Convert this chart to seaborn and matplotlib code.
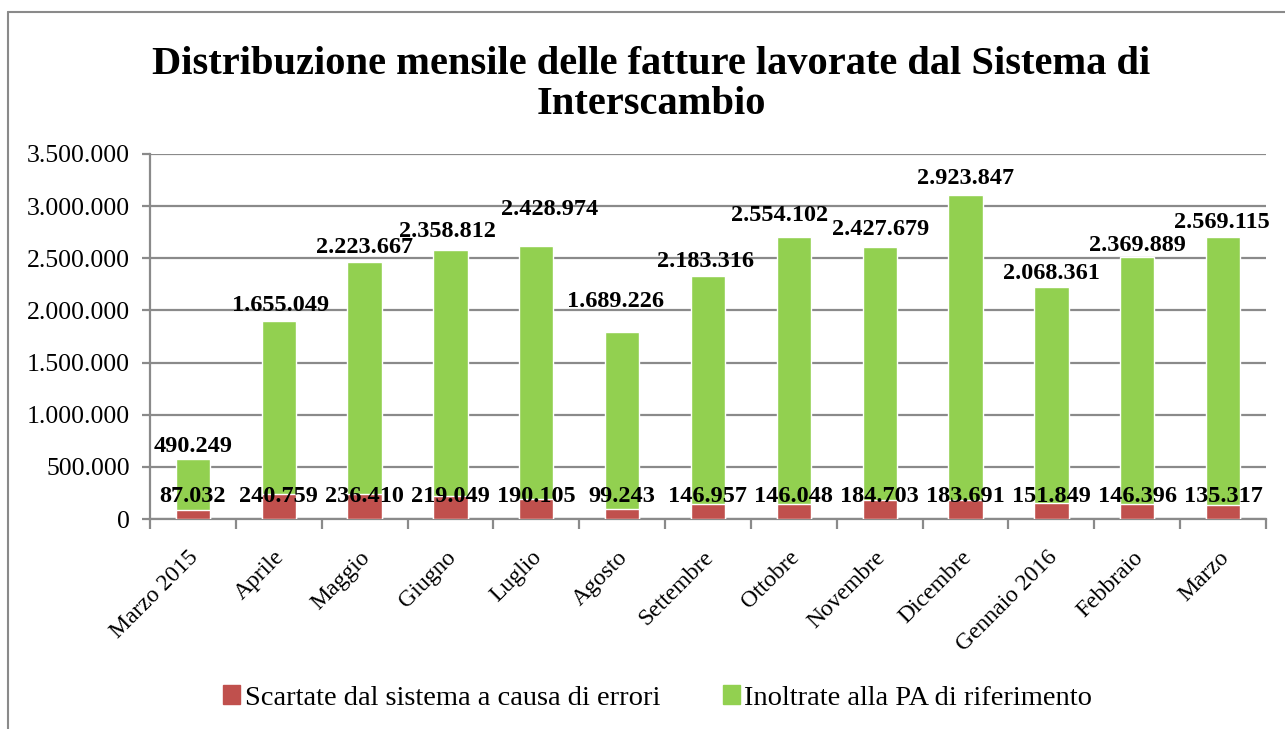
import numpy as np
import pandas as pd
import seaborn as sns
import matplotlib.pyplot as plt
import matplotlib.transforms as mtransforms
from matplotlib.patches import Patch
from matplotlib.lines import Line2D

# Data ------------------------------------------------------------------
mesi = ["Marzo 2015", "Aprile", "Maggio", "Giugno", "Luglio", "Agosto",
        "Settembre", "Ottobre", "Novembre", "Dicembre", "Gennaio 2016",
        "Febbraio", "Marzo"]
scartate = [87032, 240759, 236410, 219049, 190105, 99243, 146957,
            146048, 184703, 183691, 151849, 146396, 135317]
inoltrate = [490249, 1655049, 2223667, 2358812, 2428974, 1689226, 2183316,
             2554102, 2427679, 2923847, 2068361, 2369889, 2569115]

# small manual nudges of the top labels (pixels), as placed in the original
label_dx = [0, 2, 0, -3, 13, -7, -3, -14, 1, 0, 0, 0, -1]
label_dy = [12, 16, 15, 19, 36, 31, 14, 22, 17, 16, 14, 11, 14]

df = pd.DataFrame({"mese": mesi, "scartate": scartate, "inoltrate": inoltrate})
df["totale"] = df["scartate"] + df["inoltrate"]


def fmt(v):
    return f"{int(v):,}".replace(",", ".")


# Style -----------------------------------------------------------------
sns.set_theme(style="white")
plt.rcParams["font.family"] = ["Liberation Serif", "DejaVu Serif"]
plt.rcParams["text.color"] = "black"

red = "#C0504D"
green = "#92D050"
grid_col = "#8A8A8A"
px = 72 / 100  # points per pixel at dpi 100

fig = plt.figure(figsize=(12.85, 7.29), dpi=100)
ax = fig.add_axes([150 / 1285, 1 - 519 / 729, (1266 - 150) / 1285, (519 - 154) / 729])

# stacked bars: total in green, scartate overlaid in red
sns.barplot(data=df, x="mese", y="totale", color=green, width=0.4,
            saturation=1, ax=ax, zorder=3)
sns.barplot(data=df, x="mese", y="scartate", color=red, width=0.4,
            saturation=1, ax=ax, zorder=3)

ax.set_ylim(0, 3500000)
ax.set_xlim(-0.5, len(mesi) - 0.5)
yt = np.arange(0, 3500001, 500000)
ax.set_yticks(yt)
ax.set_yticklabels([fmt(v) for v in yt], fontsize=18.5)
ax.yaxis.grid(True, color=grid_col, linewidth=1.6, zorder=0)
ax.set_axisbelow(True)
ax.set_xlabel("")
ax.set_ylabel("")

for s in ["top", "right"]:
    ax.spines[s].set_visible(False)
for s in ["left", "bottom"]:
    ax.spines[s].set_color(grid_col)
    ax.spines[s].set_linewidth(1.6)

ax.tick_params(axis="y", length=6, color=grid_col, width=1.6, pad=8.5,
               left=True, labelcolor="black")
ax.set_xticks(np.arange(-0.5, len(mesi), 1), minor=True)
ax.tick_params(axis="x", which="minor", length=7, color=grid_col, width=1.6, bottom=True)
ax.tick_params(axis="x", which="major", length=0, pad=20, labelcolor="black")
ax.set_xticks(range(len(mesi)))
ax.set_xticklabels(mesi, rotation=45, ha="right", va="top",
                   rotation_mode="anchor", fontsize=17)
shift = mtransforms.ScaledTranslation(-5 / 100, 0, fig.dpi_scale_trans)
for lab in ax.get_xticklabels():
    lab.set_transform(lab.get_transform() + shift)

# data labels
for i, r in df.iterrows():
    ax.annotate(fmt(r["inoltrate"]), (i, r["totale"]),
                xytext=(label_dx[i] * px, label_dy[i] * px),
                textcoords="offset points", ha="center", va="center",
                fontsize=17.5, fontweight="bold", zorder=5)
    ax.annotate(fmt(r["scartate"]), (i, 0), xytext=(0, 23 * px),
                textcoords="offset points", ha="center", va="center",
                fontsize=17.5, fontweight="bold", zorder=5)

# title
fig.text(0.507, 1 - 74 / 729, "Distribuzione mensile delle fatture lavorate dal Sistema di",
         ha="center", va="baseline", fontsize=29.2, fontweight="bold")
fig.text(0.507, 1 - 114 / 729, "Interscambio",
         ha="center", va="baseline", fontsize=29.2, fontweight="bold")

# legend
handles = [Patch(color=red, label="Scartate dal sistema a causa di errori"),
           Patch(color=green, label="Inoltrate alla PA di riferimento")]
fig.legend(handles=handles, loc="center", bbox_to_anchor=(0.5117, 1 - 698 / 729),
           ncol=2, frameon=False, fontsize=20.5, handlelength=0.6,
           handleheight=0.6, handletextpad=0.15, columnspacing=2.2)

# outer chart border
fig.add_artist(Line2D([8 / 1285, 8 / 1285], [0, 1 - 12 / 729], color=grid_col, lw=1.5))
fig.add_artist(Line2D([8 / 1285, 1.0], [1 - 12 / 729, 1 - 12 / 729], color=grid_col, lw=1.5))

fig.savefig("out.png", dpi=100)
